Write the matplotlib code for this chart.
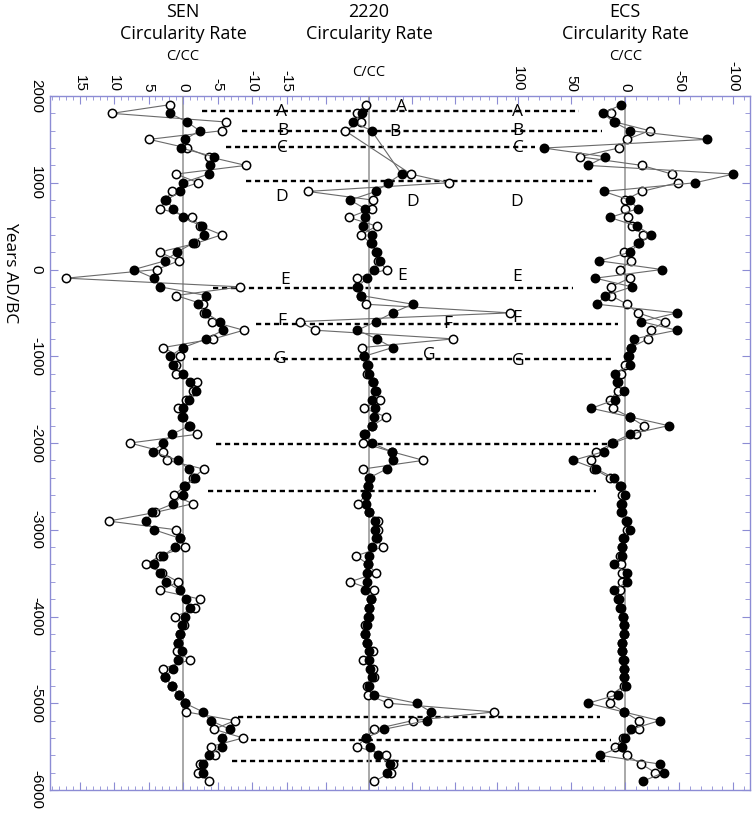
import numpy as np
import matplotlib
matplotlib.use("Agg")
import matplotlib.pyplot as plt
import matplotlib.transforms as mtransforms
from matplotlib.ticker import MultipleLocator

plt.rcParams['font.family'] = 'Liberation Sans'
plt.rcParams['axes.unicode_minus'] = False

nan = np.nan
# sample ages, 1900 AD down to 5900 BC
years = np.arange(1900, -6000, -100)

sen_filled = [nan, 1.9, -0.6, -2.4, -0.3, 0.3, -4.5, -3.9, -3.7, 0.0,
              0.4, 2.4, 1.4, 0.0, -2.7, -3.0, -1.4, 0.9, 2.6, 7.1,
              4.2, 3.3, -3.4, -2.2, -3.3, -5.3, -5.8, -3.4, 0.0, 1.9,
              1.4, 0.0, -1.0, -1.9, -0.9, 0.0, 0.0, -0.9, 1.6, 2.9,
              4.4, 0.7, -0.8, -1.7, -0.3, 0.0, 1.4, 4.5, 5.4, 4.2,
              0.4, 1.2, 2.9, 4.2, 3.4, 2.5, 0.4, -0.4, -1.0, -0.3,
              0.2, 0.4, 0.7, 0.2, 0.7, 1.5, 2.6, 1.6, 0.6, -0.3,
              -2.9, -4.0, -6.8, -5.7, -5.7, -3.7, -2.9, -2.9, nan]
sen_open = [1.9, 10.3, -6.3, -5.6, 4.9, -0.6, -3.7, -9.1, 1.0, -2.2,
            1.6, 2.6, 3.3, -1.3, -2.5, -5.6, -1.8, 3.4, 0.6, 3.8,
            16.9, -8.3, 1.0, -2.9, -3.0, -4.2, -8.8, -4.4, 2.9, 0.5,
            1.0, 1.0, -2.0, -1.5, -0.5, 0.7, 0.2, -1.0, -2.0, 7.7,
            2.9, 2.3, -3.0, -1.5, -0.2, 1.3, -1.4, 4.0, 10.8, 1.0,
            0.5, -0.3, 3.3, 5.4, 3.0, 0.7, 3.3, -2.5, -1.8, 1.1,
            -0.2, 0.4, 0.7, 0.9, -1.0, 2.9, 2.6, 1.6, 0.6, -0.3,
            -0.5, -7.5, -4.5, -8.7, -4.0, -4.6, -2.5, -2.2, -3.7]

c2220_filled = [nan, -1.7, -3.7, 0.6, nan, nan, nan, nan, 7.6, 4.5,
                1.6, -4.4, -0.9, -0.9, -1.3, 0.6, 0.6, 1.6, 2.6, 1.2,
                -0.5, -2.7, -1.9, 10.2, 5.5, 1.6, -2.7, 1.8, 5.5, -1.1,
                -0.5, -0.1, 1.0, 1.4, 0.8, 1.4, 1.2, 0.8, -0.9, 0.6,
                5.3, 5.5, 4.1, 0.1, -0.3, -0.7, -0.6, 0.1, 1.4, 1.4,
                1.8, 0.6, 0.1, -0.2, -0.5, -0.5, -0.9, 0.4, 0.0, 0.0,
                -0.5, -0.9, -0.5, -0.1, 0.0, 0.3, 0.6, 0.0, 1.2, 11.1,
                14.5, 13.5, 3.5, -0.7, 0.2, 2.2, 4.9, 4.3, nan]
c2220_open = [-0.8, -2.9, -1.9, -5.6, nan, nan, nan, nan, 9.8, 18.7,
              -14.3, 0.9, 0.6, -4.7, 1.8, -1.9, 0.5, 1.8, 2.2, 4.1,
              -2.7, -2.5, -1.9, -0.8, 33.0, -16.1, -12.6, 19.7, -1.7, -1.2,
              -0.3, -0.5, 1.0, 1.7, 2.6, -1.1, 4.0, 0.8, -1.1, -1.5,
              5.3, 12.7, -1.4, 0.3, -0.3, -0.8, -2.5, 0.1, 2.2, 2.0,
              1.7, 3.2, -3.0, -0.2, 1.6, -4.4, 1.2, 0.4, 0.0, -0.2,
              -0.9, -0.9, -0.5, 1.0, -1.3, 1.0, 1.2, -0.4, -0.3, 4.5,
              29.2, 10.2, 1.2, -0.7, -2.9, 4.0, 5.5, 5.1, 1.2]

ecs_filled = [3.7, 20.7, 10.8, -4.6, -75.6, 75.6, 18.5, 34.6, -100.3, -64.8,
              20.1, -4.0, -11.7, 14.5, -10.8, -24.1, -12.3, -4.6, 24.1, -33.9,
              27.8, -6.2, 18.5, 26.2, -47.8, -14.8, -47.8, -7.7, -5.6, -3.1,
              -4.6, 9.3, 7.7, 1.5, 9.3, 31.5, -4.6, -40.1, -4.0, 12.3,
              20.1, 48.5, 26.9, 10.8, 4.6, 0.0, 3.7, 3.7, -1.5, -4.6,
              2.2, 3.1, 3.1, 10.8, -1.5, -1.5, 10.8, 6.8, 4.6, 2.5,
              1.5, 1.5, 3.1, 3.1, 2.0, 0.9, 1.5, -0.9, 6.8, 34.6,
              1.5, -31.8, -5.6, 0.6, 3.1, 23.8, -31.8, -35.5, -16.0]
ecs_open = [nan, 13.3, 9.3, -22.5, -1.5, 6.2, 42.3, -15.4, -43.2, -48.5,
            -15.4, 0.6, 0.0, -2.2, -6.5, -16.4, -12.0, 1.5, -5.2, 5.3,
            -4.0, 13.3, 13.3, -1.5, -11.7, -36.4, -24.1, -21.0, -5.0, -2.5,
            0.6, 4.0, 7.0, 6.8, 14.5, 11.7, -4.0, -17.0, -10.2, 11.0,
            26.9, 31.8, 29.0, 14.5, 4.0, 2.8, 3.0, 3.0, -1.0, -2.0,
            1.0, 3.0, 4.6, 3.7, 2.8, 2.8, 4.6, 6.0, 4.0, 2.5,
            1.5, 1.5, 3.0, 3.0, 1.0, 1.0, 1.5, 1.0, 13.3, 14.5,
            1.0, -12.3, -12.3, 2.0, 9.3, -1.5, -14.8, -27.8, nan]

# event horizons
event_years = [1827, 1597, 1409, 1024, -213, -628, -1032, -2006, -2559, -5164, -5429, -5665]
event_names = ['A', 'B', 'C', 'D', 'E', 'F', 'G', '', '', '', '', '']

panel_names = ['SEN', '2220', 'ECS']

# ---- layout (pixels of the 754x816 picture) ----
W, H = 754, 816
left, right, top, bottom = 50, 750, 96, 790
frame_color = '#8c8cd4'

def fx(px):
    return px / W

def fy(py):
    return 1 - py / H

def frac(px):
    return (px - left) / (right - left)

# dashed line extents (pixels)
event_spans = [(202, 579), (242, 602), (226, 535), (246, 595), (213, 573), (256, 618),
               (193, 611), (216, 610), (208, 596), (238, 600), (242, 611), (232, 609)]
# letter placements: (x pixel, year)
letter_spots = {
    'A': [(281, 1816), (402, 1873), (518, 1816)],
    'B': [(283, 1597), (395, 1585), (518, 1597)],
    'C': [(282, 1401), (518, 1401)],
    'D': [(282, 836), (413, 778), (517, 778)],
    'E': [(285, -121), (402, -75), (517, -86)],
    'F': [(282, -594), (448, -628), (517, -559)],
    'G': [(280, -1032), (429, -986), (518, -1055)],
}

fig = plt.figure(figsize=(7.54, 8.16), dpi=100)

ax_f = fig.add_axes([fx(left), fy(bottom), (right - left) / W, (bottom - top) / H])
ax_f.set_xlim(0, 1)
ax_f.set_ylim(-6000, 2000)
for s in ax_f.spines.values():
    s.set_color(frame_color)
    s.set_linewidth(1.0)
ax_f.set_xticks([])
ax_f.yaxis.set_major_locator(MultipleLocator(1000))
ax_f.yaxis.set_minor_locator(MultipleLocator(200))
ax_f.tick_params(axis='y', which='both', direction='in', left=True, right=True, color=frame_color)
ax_f.tick_params(axis='y', which='major', length=6, labelsize=11, labelrotation=-90, pad=5)
ax_f.tick_params(axis='y', which='minor', length=3.5)
for lab in ax_f.get_yticklabels():
    lab.set_verticalalignment('center')
ax_f.set_ylabel('Years AD/BC', rotation=-90, family='Open Sans', fontsize=12.5, va='center')
ax_f.yaxis.set_label_coords(-0.057, 0.746)

for yr, (x0, x1) in zip(event_years, event_spans):
    ax_f.hlines(yr, frac(x0), frac(x1), colors='black', linestyles=(0, (2.2, 1.6)), lw=1.7, zorder=2)
for name, spots in letter_spots.items():
    for px, yr in spots:
        ax_f.text(frac(px), yr, name, ha='center', va='center', family='Open Sans', fontsize=12.5, zorder=2)


def make_panel(x0, x1, xlim, major, minor, labels=True):
    ax = fig.add_axes([fx(x0), fy(bottom), (x1 - x0) / W, (bottom - top) / H], sharey=ax_f)
    ax.patch.set_alpha(0)
    for s in ax.spines.values():
        s.set_visible(False)
    ax.set_xlim(*xlim)
    ax.xaxis.set_major_locator(MultipleLocator(major))
    ax.xaxis.set_minor_locator(MultipleLocator(minor))
    ax.tick_params(axis='x', which='both', direction='in', top=True, bottom=True,
                   labeltop=labels, labelbottom=False, color=frame_color)
    ax.tick_params(axis='x', which='major', length=6, labelsize=11, labelrotation=-90, pad=3)
    ax.tick_params(axis='x', which='minor', length=3)
    ax.tick_params(axis='y', which='both', left=False, right=False, labelleft=False)
    ax.axvline(0, color='#9a9a9a', lw=1.2, zorder=1)
    return ax


ax_sen = make_panel(50, 287, (19.28, -15.07), 5, 1)
ax_222 = make_panel(287, 517, (-19.16, 34.58), 10, 2, labels=False)
ax_ecs = make_panel(517, 750, (100.5, -115.7), 50, 10)


def draw_series(ax, v_open, v_filled):
    for vals, face in ((v_open, 'white'), (v_filled, 'black')):
        v = np.asarray(vals, float)
        m = ~np.isnan(v)
        ax.plot(v[m], years[m], color='#6a6a6a', lw=0.8, marker='o', ms=6,
                mfc=face, mec='black', mew=1.1, zorder=3, clip_on=False)


draw_series(ax_sen, sen_open, sen_filled)
draw_series(ax_222, c2220_open, c2220_filled)
draw_series(ax_ecs, ecs_open, ecs_filled)

for ax, name, cc_y in ((ax_sen, panel_names[0], 57), (ax_222, panel_names[1], 72), (ax_ecs, panel_names[2], 57)):
    tr = mtransforms.blended_transform_factory(ax.transData, fig.transFigure)
    ax.text(0, fy(12), name, transform=tr, ha='center', va='center', family='Open Sans', fontsize=13)
    ax.text(0, fy(34), 'Circularity Rate', transform=tr, ha='center', va='center', family='Open Sans', fontsize=13)
    ax.text(0, fy(cc_y), 'C/CC', transform=tr, ha='center', va='center', family='Open Sans', fontsize=10.5)

fig.savefig('out.png', dpi=100)
